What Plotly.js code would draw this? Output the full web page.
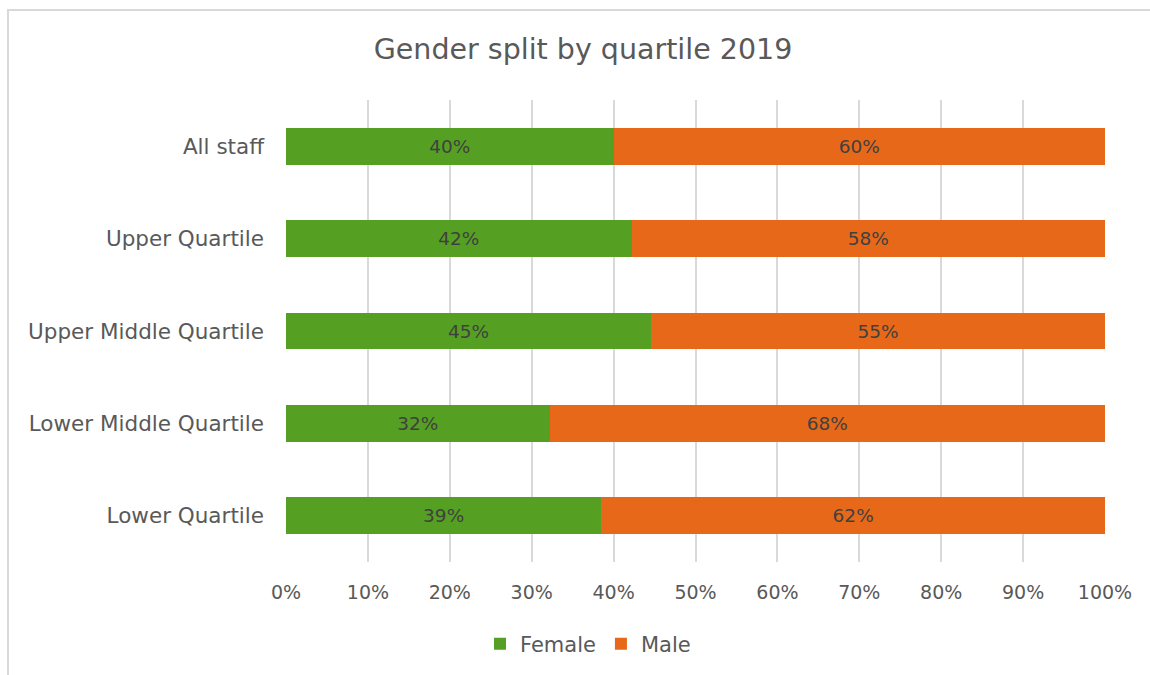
<!DOCTYPE html>
<html>
<head>
<meta charset="utf-8">
<script src="https://cdn.plot.ly/plotly-3.0.1.min.js"></script>
<style>
  html, body { margin: 0; padding: 0; background: #fff; }
  #wrap { position: relative; width: 1150px; height: 675px; overflow: hidden; }
  #chart { position: absolute; left: 0; top: 0; width: 1150px; height: 675px; }
  #frame { position: absolute; left: 7px; top: 9px; width: 1200px; height: 700px;
           border-left: 2px solid #d9d9d9; border-top: 2px solid #d9d9d9; pointer-events: none; }
</style>
</head>
<body>
<div id="wrap">
  <div id="chart"></div>
  <div id="frame"></div>
</div>
<script>
const categories = ["All staff", "Upper Quartile", "Upper Middle Quartile", "Lower Middle Quartile", "Lower Quartile"];
const femaleValues = [40.0, 42.2, 44.6, 32.2, 38.5];
const maleValues = [60.0, 57.8, 55.4, 67.8, 61.5];
const xTickValues = [0, 10, 20, 30, 40, 50, 60, 70, 80, 90, 100];
const xTickLabels = ["0%", "10%", "20%", "30%", "40%", "50%", "60%", "70%", "80%", "90%", "100%"];

const FONT = "DejaVu Sans, Verdana, sans-serif";

const traces = [
  {
    type: "bar", orientation: "h", name: "Female",
    y: categories, x: femaleValues,
    marker: { color: "#55a022" },
    texttemplate: "%{x:.0f}%", textposition: "inside", insidetextanchor: "middle",
    textfont: { family: FONT, size: 18.5, color: "#404040" },
    hoverinfo: "skip"
  },
  {
    type: "bar", orientation: "h", name: "Male",
    y: categories, x: maleValues,
    marker: { color: "#e8681a" },
    texttemplate: "%{x:.0f}%", textposition: "inside", insidetextanchor: "middle",
    textfont: { family: FONT, size: 18.5, color: "#404040" },
    hoverinfo: "skip"
  }
];

const layout = {
  width: 1150, height: 675,
  paper_bgcolor: "#ffffff", plot_bgcolor: "#ffffff",
  margin: { l: 286, r: 45, t: 100, b: 113 },
  barmode: "stack", bargap: 0.6,
  font: { family: FONT, color: "#595959" },
  title: {
    text: "Gender split by quartile 2019",
    font: { family: FONT, size: 28.5, color: "#595959" },
    x: 583 / 1150, xref: "container", xanchor: "center",
    y: 1 - 49 / 675, yref: "container", yanchor: "middle"
  },
  xaxis: {
    range: [0, 100], tickvals: xTickValues, ticktext: xTickLabels,
    showgrid: true, gridcolor: "#d9d9d9", gridwidth: 2,
    zeroline: false, showline: false, ticks: "",
    ticklabelstandoff: 17,
    tickfont: { family: FONT, size: 19, color: "#595959" },
    fixedrange: true
  },
  yaxis: {
    autorange: "reversed", showgrid: false, zeroline: false, showline: false,
    ticks: "", ticklabelstandoff: 21,
    tickfont: { family: FONT, size: 21.5, color: "#595959" },
    fixedrange: true
  },
  showlegend: true,
  legend: {
    orientation: "h", xref: "container", yref: "container",
    x: 588 / 1150, xanchor: "center", y: 31 / 675, yanchor: "middle",
    font: { family: FONT, size: 21, color: "#595959" },
    traceorder: "normal", itemwidth: 30
  }
};

Plotly.newPlot("chart", traces, layout, { displayModeBar: false, staticPlot: true });
</script>
</body>
</html>
